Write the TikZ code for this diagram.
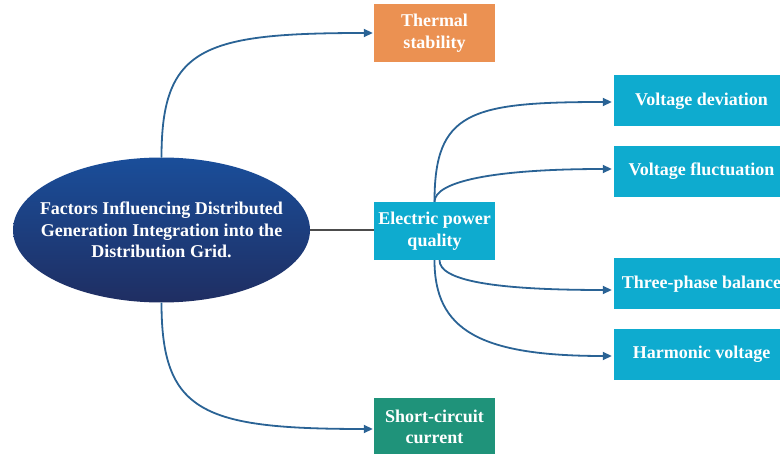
\documentclass[tikz,border=0pt]{standalone}
\usepackage{fontspec}
\setmainfont{Liberation Serif}
\usetikzlibrary{positioning,arrows.meta,shapes.geometric}
\definecolor{thermalorange}{HTML}{EB9152}
\definecolor{qualityblue}{HTML}{0EABCF}
\definecolor{shortgreen}{HTML}{1F937A}
\definecolor{linkblue}{HTML}{2A6395}
\definecolor{ovaltop}{HTML}{1A4E9A}
\definecolor{ovalbottom}{HTML}{1F2E62}

\begin{document}
\begin{tikzpicture}[x=1pt,y=-1pt,
    box/.style={rectangle,inner sep=0pt,align=center,text=white,font=\fontsize{18}{21.7}\selectfont\bfseries},
    leaf/.style={box,fill=qualityblue,minimum width=175pt,minimum height=51pt},
    link/.style={draw=linkblue,line width=1.8pt,-{Triangle[length=9pt,width=8pt]}}]

\useasboundingbox (0,0) rectangle (780,454);

% Ellipse
\node[ellipse,minimum width=297pt,minimum height=145pt,inner xsep=-25pt,inner ysep=0pt,
      top color=ovaltop,bottom color=ovalbottom,
      text=white,align=center,font=\fontsize{18}{21.7}\selectfont\bfseries] (root) at (161.5,230)
      {Factors Influencing Distributed\\Generation Integration into the\\Distribution Grid.};

% Middle column
\node[box,fill=thermalorange,minimum width=121pt,minimum height=58pt] (thermal) at (434.5,33) {Thermal\\stability};
\node[box,fill=qualityblue,minimum width=121pt,minimum height=58pt] (quality) at (434.5,231) {Electric power\\quality};
\node[box,fill=shortgreen,minimum width=121pt,minimum height=58pt] (short) at (434.5,427) {Short-circuit\\current};

% Right column
\foreach \name/\y/\txt in {dev/101/Voltage deviation,fluc/171.5/Voltage fluctuation,
                          phase/284/Three-phase balance,harm/354.5/Harmonic voltage} {
    \node[leaf] (\name) at (701.5,\y) {\txt};
}

% Connectors
\draw[draw=gray!60!black,line width=1.2pt] (root.east) -- (root.east -| quality.west);
\draw[link] (root.north) .. controls +(0,-110) and +(-170,0) .. ([xshift=-1pt]thermal.west);
\draw[link] (root.south) .. controls +(0,110) and +(-170,0) .. ([xshift=-1pt,yshift=-2pt]short.west);
\draw[link] (quality.north) .. controls +(0,-90) and +(-142,0) .. ([xshift=-2pt,yshift=-1pt]dev.west);
\draw[link] (quality.north) .. controls +(0,-20) and +(-120,0) .. ([xshift=-2pt,yshift=2.5pt]fluc.west);
\draw[link] ([xshift=5pt]quality.south) .. controls +(0,20) and +(-120,0) .. ([xshift=-2pt,yshift=-6pt]phase.west);
\draw[link] (quality.south) .. controls +(0,70) and +(-132,0) .. ([xshift=-2pt,yshift=-1.5pt]harm.west);

\end{tikzpicture}
\end{document}
